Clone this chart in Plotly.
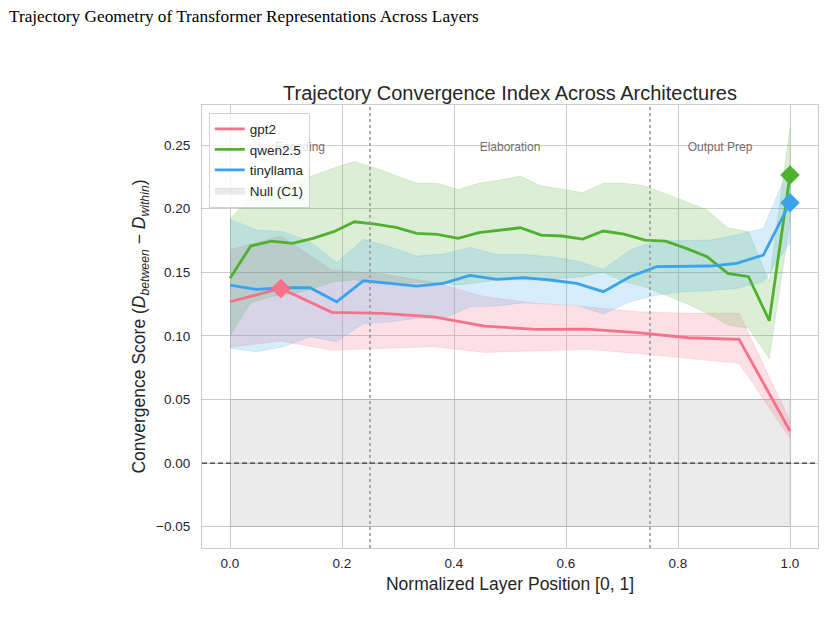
import plotly.graph_objects as go

# ---------------- data ----------------
gpt2_x = [i / 11 for i in range(12)]
gpt2_mean = [0.1268, 0.1373, 0.1185, 0.1177, 0.1150, 0.1077, 0.1051, 0.1053, 0.1025, 0.0985, 0.0972, 0.0252]
gpt2_upper = [0.1675, 0.1785, 0.1517, 0.1486, 0.1420, 0.1308, 0.1255, 0.1229, 0.1190, 0.1177, 0.1177, 0.0330]
gpt2_lower = [0.0910, 0.0960, 0.0888, 0.0902, 0.0915, 0.0870, 0.0880, 0.0894, 0.0862, 0.0823, 0.0784, 0.0194]

qwen_x = [i / 27 for i in range(28)]
qwen_mean = [0.1452, 0.1706, 0.1745, 0.1727, 0.1766, 0.1819, 0.1897, 0.1879, 0.1853, 0.1806,
             0.1798, 0.1766, 0.1811, 0.1832, 0.1850, 0.1792, 0.1785, 0.1761, 0.1824, 0.1800,
             0.1753, 0.1745, 0.1688, 0.1622, 0.1491, 0.1465, 0.1119, 0.2264]
qwen_upper = [0.1920, 0.2090, 0.2150, 0.2210, 0.2260, 0.2320, 0.2370, 0.2320, 0.2260, 0.2200,
              0.2200, 0.2150, 0.2200, 0.2225, 0.2256, 0.2178, 0.2154, 0.2125, 0.2200, 0.2200,
              0.2180, 0.2120, 0.2055, 0.1990, 0.1850, 0.1820, 0.1425, 0.2640]
qwen_lower = [0.1000, 0.1260, 0.1310, 0.1330, 0.1370, 0.1425, 0.1440, 0.1420, 0.1410, 0.1420,
              0.1420, 0.1400, 0.1420, 0.1440, 0.1440, 0.1440, 0.1450, 0.1465, 0.1500, 0.1425,
              0.1386, 0.1320, 0.1255, 0.1177, 0.1085, 0.1060, 0.0823, 0.1900]

tiny_x = [i / 21 for i in range(22)]
tiny_mean = [0.1399, 0.1365, 0.1378, 0.1378, 0.1268, 0.1433, 0.1413, 0.1391, 0.1413, 0.1475, 0.1444,
             0.1457, 0.1439, 0.1413, 0.1347, 0.1465, 0.1544, 0.1549, 0.1549, 0.1570, 0.1635, 0.2047]
tiny_upper = [0.1916, 0.1832, 0.1819, 0.1740, 0.1575, 0.1759, 0.1700, 0.1627, 0.1643, 0.1696, 0.1640,
              0.1640, 0.1622, 0.1590, 0.1522, 0.1675, 0.1748, 0.1748, 0.1753, 0.1792, 0.1845, 0.2343]
tiny_lower = [0.0902, 0.0875, 0.0915, 0.0993, 0.0954, 0.1098, 0.1110, 0.1137, 0.1137, 0.1229, 0.1234,
              0.1260, 0.1250, 0.1240, 0.1171, 0.1268, 0.1320, 0.1347, 0.1355, 0.1373, 0.1425, 0.1727]

null_x = [0.0, 1.0]
null_low = -0.05
null_high = 0.05

region_names = ["Encoding", "Elaboration", "Output Prep"]
region_centers = [0.125, 0.5, 0.875]
region_label_y = 0.2476
region_bounds = [0.25, 0.75]

x_ticks = [0.0, 0.2, 0.4, 0.6, 0.8, 1.0]
y_ticks = [-0.05, 0.0, 0.05, 0.10, 0.15, 0.20, 0.25]

models = [
    ("gpt2", gpt2_x, gpt2_mean, gpt2_upper, gpt2_lower, "#f77189", "rgba(247,113,137,0.22)"),
    ("qwen2.5", qwen_x, qwen_mean, qwen_upper, qwen_lower, "#50b131", "rgba(80,177,49,0.2)"),
    ("tinyllama", tiny_x, tiny_mean, tiny_upper, tiny_lower, "#3ba3ec", "rgba(59,163,236,0.2)"),
]

fig = go.Figure()

# null band
fig.add_trace(go.Scatter(
    x=null_x + null_x[::-1],
    y=[null_high] * len(null_x) + [null_low] * len(null_x),
    mode="lines", fill="toself", fillcolor="rgba(128,128,128,0.16)",
    line=dict(width=0.8, color="rgba(128,128,128,0.25)"),
    name="Null (C1)", legendrank=2000, hoverinfo="skip",
))

# region labels (as a trace so the legend sits on top of them)
fig.add_trace(go.Scatter(
    x=region_centers, y=[region_label_y] * len(region_centers), mode="text",
    text=region_names, textposition="middle center", showlegend=False, hoverinfo="skip",
    textfont=dict(family="Liberation Sans, Arial", size=12, color="#707070"),
))

for name, xs, mean, up, lo, col, fcol in models:
    fig.add_trace(go.Scatter(
        x=xs + xs[::-1], y=up + lo[::-1], mode="lines", fill="toself", fillcolor=fcol,
        line=dict(width=0.8, color=fcol), showlegend=False, hoverinfo="skip",
    ))

for rank, (name, xs, mean, up, lo, col, fcol) in enumerate(models):
    fig.add_trace(go.Scatter(
        x=xs, y=mean, mode="lines", name=name, legendrank=100 + rank,
        line=dict(color=col, width=2.8),
    ))

for name, xs, mean, up, lo, col, fcol in models:
    k = max(range(len(mean)), key=lambda i: mean[i])
    fig.add_trace(go.Scatter(
        x=[xs[k]], y=[mean[k]], mode="markers", showlegend=False,
        marker=dict(symbol="diamond", size=15, color=col),
    ))

shapes = []
for b in region_bounds:
    shapes.append(dict(type="line", xref="x", yref="paper", x0=b, x1=b, y0=0, y1=1,
                       line=dict(color="#999999", width=1.6, dash="dot")))
shapes.append(dict(type="line", xref="paper", yref="y", x0=0, x1=1, y0=0, y1=0,
                   line=dict(color="#333333", width=1.3, dash="5px,3px")))

annotations = [dict(x=(7 - 202) / 616, y=1 + (105 - 16) / 443, xref="paper", yref="paper",
                    xanchor="left", yanchor="middle",
                    text="Trajectory Geometry of Transformer Representations Across Layers",
                    showarrow=False,
                    font=dict(family="Liberation Serif, Times New Roman", size=17.25, color="black"))]

fig.update_layout(
    width=824, height=617,
    margin=dict(l=202, r=6, t=105, b=69),
    paper_bgcolor="white", plot_bgcolor="white",
    font=dict(family="Liberation Sans, Arial", color="#262626"),
    title=dict(text="Trajectory Convergence Index Across Architectures",
               x=0.5, xref="paper", xanchor="center",
               y=1 - 93 / 617, yref="container", yanchor="middle",
               font=dict(size=20, color="#262626")),
    shapes=shapes,
    annotations=annotations,
    legend=dict(x=0.011, y=0.983, xanchor="left", yanchor="top",
                bgcolor="rgba(255,255,255,0.8)", bordercolor="#d0d0d0", borderwidth=1,
                font=dict(size=13.5, color="#262626"), tracegroupgap=0),
    showlegend=True,
)

fig.update_xaxes(range=[-0.05, 1.05], tickvals=x_ticks, ticktext=[f"{v:.1f}" for v in x_ticks],
                 showgrid=True, gridcolor="#cccccc", gridwidth=1, zeroline=False,
                 showline=True, linecolor="#cccccc", linewidth=1.2, mirror=True,
                 tickfont=dict(size=13.5, color="#262626"), ticklabelstandoff=3,
                 title=dict(text="Normalized Layer Position [0, 1]", font=dict(size=17.5, color="#262626"), standoff=7))
fig.update_yaxes(range=[-0.0668, 0.2815], tickvals=y_ticks,
                 ticktext=["\u22120.05", "0.00", "0.05", "0.10", "0.15", "0.20", "0.25"],
                 showgrid=True, gridcolor="#cccccc", gridwidth=1, zeroline=False,
                 showline=True, linecolor="#cccccc", linewidth=1.2, mirror=True,
                 tickfont=dict(size=13.5, color="#262626"), ticklabelstandoff=8,
                 title=dict(text="Convergence Score (<i>D</i><sub><i>between</i></sub> \u2212 <i>D</i><sub><i>within</i></sub>)",
                            font=dict(size=17.5, color="#262626"), standoff=5))

fig.write_html("out.html")
